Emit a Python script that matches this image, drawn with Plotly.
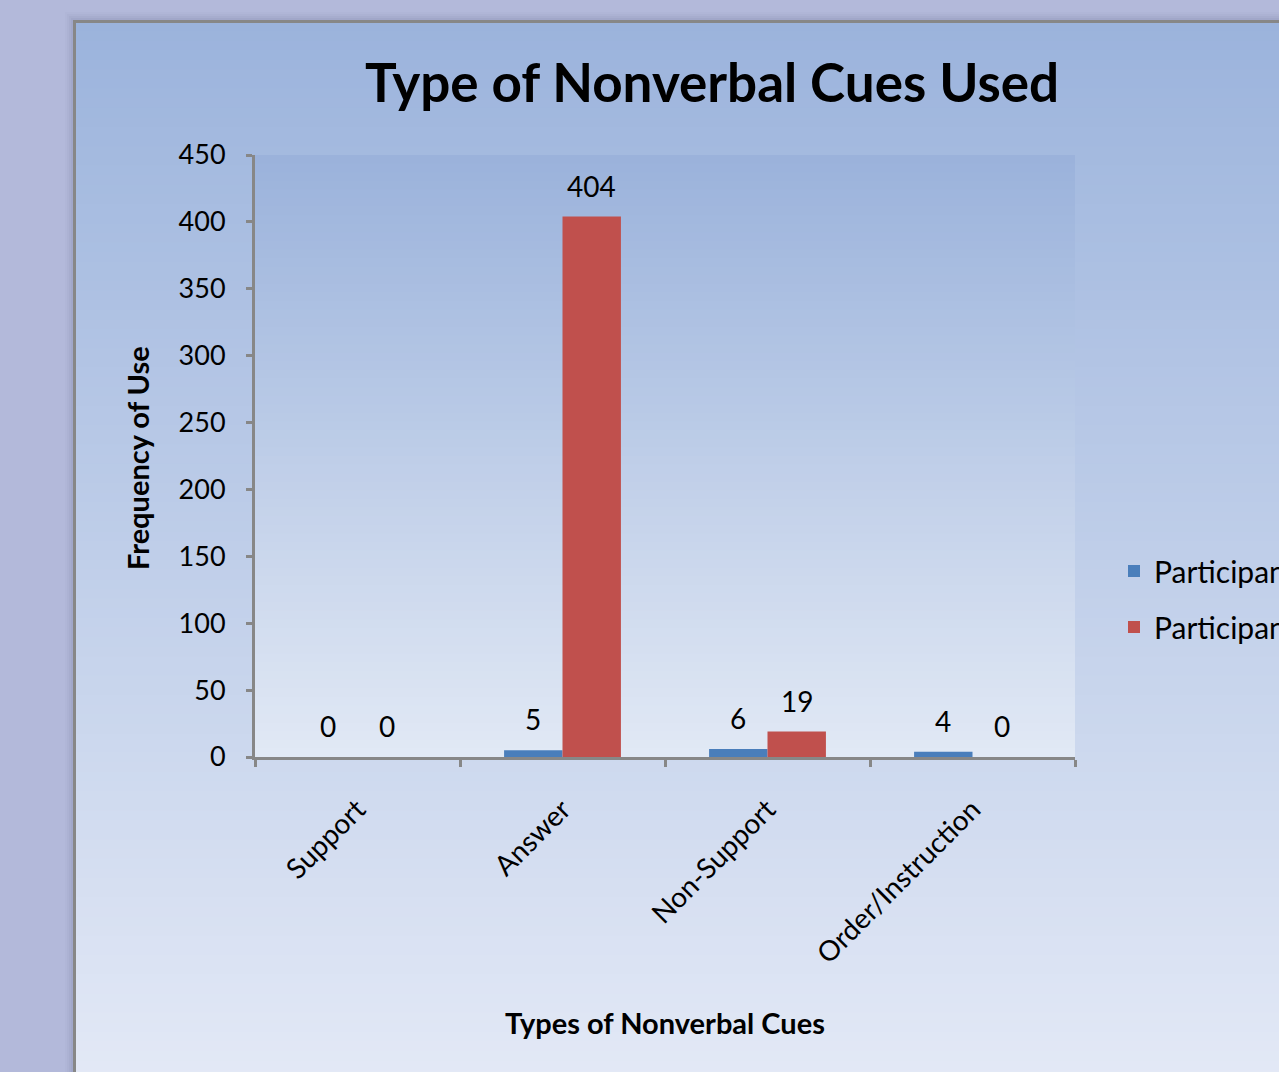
import plotly.graph_objects as go

# ---------------- data ----------------
categories = ["Support", "Answer", "Non-Support", "Order/Instruction"]
participant_1 = [0, 5, 6, 4]
participant_2 = [0, 404, 19, 0]
series_names = ["Participant 1", "Participant 2"]
y_ticks = [0, 50, 100, 150, 200, 250, 300, 350, 400, 450]

# ---------------- layout geometry (px) ----------------
W, H = 1279, 1072
PL, PR, PT, PB = 255, 1075, 155, 757
FONT = "Lato, Carlito, 'Open Sans', sans-serif"
BLUE = "#4a7ebb"
RED = "#c0504d"
AXIS = "#878787"


def px_x(p):
    return (p - PL) / (PR - PL)


def px_y(p):
    return (PB - p) / (PB - PT)


def hex2rgb(h):
    h = h.lstrip("#")
    return tuple(int(h[i:i + 2], 16) for i in (0, 2, 4))


def mix(c1, c2, t):
    a, b = hex2rgb(c1), hex2rgb(c2)
    return "rgb(%d,%d,%d)" % tuple(round(a[i] + (b[i] - a[i]) * t) for i in range(3))


shapes = []

# soft shadow of chart area
for k, a in enumerate([0.05, 0.04, 0.03, 0.02]):
    off = 2 + 2 * k
    shapes.insert(0, dict(type="rect", xref="paper", yref="paper",
                          x0=px_x(73 - off), x1=px_x(1320), y0=px_y(1120), y1=px_y(20 - off),
                          fillcolor="rgba(60,60,110,%.3f)" % a, line=dict(width=0), layer="below"))

# outer chart area gradient
n = 110
top, bottom = 21, 1080
for i in range(n):
    y0 = top + (bottom - top) * i / n
    y1 = top + (bottom - top) * (i + 1) / n + 0.8
    col = mix("#9bb3dc", "#e3e9f6", (i + 0.5) / n)
    shapes.append(dict(type="rect", xref="paper", yref="paper",
                       x0=px_x(74), x1=px_x(1300), y0=px_y(y1), y1=px_y(y0),
                       fillcolor=col, line=dict(width=0), layer="below"))

# plot area gradient
n2 = 70
for i in range(n2):
    y0 = PT + (PB - PT) * i / n2
    y1 = min(PT + (PB - PT) * (i + 1) / n2 + 0.8, PB)
    col = mix("#9ab2db", "#e2e9f5", (i + 0.5) / n2)
    shapes.append(dict(type="rect", xref="paper", yref="paper",
                       x0=px_x(PL), x1=px_x(PR), y0=px_y(y1), y1=px_y(y0),
                       fillcolor=col, line=dict(width=0), layer="below"))

# border of chart area
shapes.append(dict(type="rect", xref="paper", yref="paper",
                   x0=px_x(74.5), x1=px_x(1320), y0=px_y(1120), y1=px_y(21.5),
                   fillcolor="rgba(0,0,0,0)", line=dict(color=AXIS, width=3), layer="below"))

fig = go.Figure()
fig.add_trace(go.Bar(x=categories, y=participant_1, name=series_names[0],
                     marker=dict(color=BLUE, line=dict(width=0)), legendgroup="a"))
fig.add_trace(go.Bar(x=categories, y=participant_2, name=series_names[1],
                     marker=dict(color=RED, line=dict(width=0)), legendgroup="b"))

bargap = 0.43
slot = (PR - PL) / len(categories)
half = slot * (1 - bargap) / 4

annotations = []
for vals, sh in ((participant_1, -half), (participant_2, half)):
    for c, v in zip(categories, vals):
        annotations.append(dict(x=c, y=v, xref="x", yref="y", text=str(v), showarrow=False,
                                xshift=sh, yshift=31, yanchor="middle",
                                font=dict(family=FONT, size=28, color="#000")))

annotations.append(dict(xref="paper", yref="paper", x=px_x(137), y=px_y(458),
                        text="<b>Frequency of Use</b>", textangle=-90, showarrow=False,
                        xanchor="center", yanchor="middle",
                        font=dict(family=FONT, size=29, color="#000")))
annotations.append(dict(xref="paper", yref="paper", x=px_x(665), y=px_y(1023),
                        text="<b>Types of Nonverbal Cues</b>", showarrow=False,
                        xanchor="center", yanchor="middle",
                        font=dict(family=FONT, size=29, color="#000")))

fig.update_layout(
    width=W, height=H,
    margin=dict(l=PL, r=W - PR, t=PT, b=H - PB, autoexpand=False),
    paper_bgcolor="#b3b9da",
    plot_bgcolor="rgba(0,0,0,0)",
    barmode="group", bargap=bargap, bargroupgap=0,
    title=dict(text="<b>Type of Nonverbal Cues Used</b>", x=712 / W, xref="container",
               y=1 - 83 / H, yref="container", xanchor="center", yanchor="middle",
               font=dict(family=FONT, size=53, color="#000")),
    shapes=shapes,
    annotations=annotations,
    showlegend=True,
    legend=dict(x=px_x(1114), y=px_y(545), xanchor="left", yanchor="top",
                font=dict(family=FONT, size=30, color="#000"),
                bgcolor="rgba(0,0,0,0)", traceorder="grouped", tracegroupgap=14),
    xaxis=dict(type="category", showline=True, linecolor=AXIS, linewidth=3,
               ticks="outside", tickson="boundaries", ticklen=7, tickwidth=3, tickcolor=AXIS,
               tickangle=-45, showgrid=False, zeroline=False, ticklabelstandoff=22,
               tickfont=dict(family=FONT, size=28, color="#000")),
    yaxis=dict(range=[0, 450], tickvals=y_ticks, showline=True, linecolor=AXIS, linewidth=3,
               ticks="outside", ticklen=6, tickwidth=3, tickcolor=AXIS,
               showgrid=False, zeroline=False, ticklabelstandoff=15,
               tickfont=dict(family=FONT, size=27, color="#000")),
)

fig.write_html("out.html", config={"displayModeBar": False},
               post_script="document.body.style.margin='0';document.body.style.overflow='hidden';")
